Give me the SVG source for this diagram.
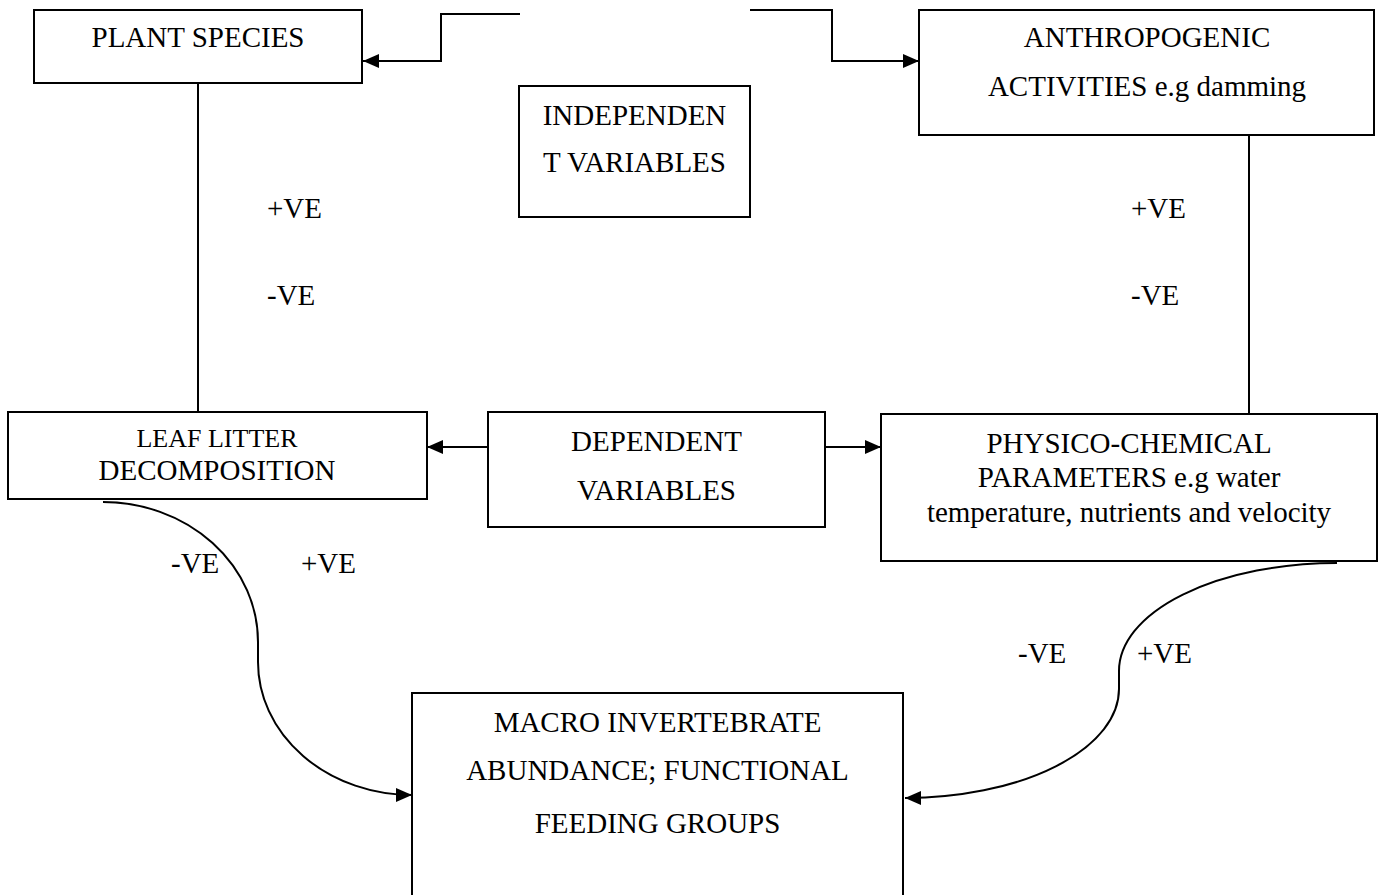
<svg xmlns="http://www.w3.org/2000/svg" width="1386" height="895" viewBox="0 0 1386 895">
<style>
.box{fill:#fff;stroke:#000;stroke-width:2}
.t{font-family:"Liberation Serif","Times New Roman",serif;font-size:29px;fill:#000}
.c{text-anchor:middle}
.ln{fill:none;stroke:#000;stroke-width:2}
</style>
<defs>
<marker id="ah" markerUnits="userSpaceOnUse" markerWidth="16" markerHeight="14" refX="16" refY="7" orient="auto">
<path d="M0,0 L16,7 L0,14 z" fill="#000"/>
</marker>
</defs>
<rect width="1386" height="895" fill="#fff"/>
<g id="connectors">
<polyline class="ln" points="520,14 441,14 441,61 363,61" marker-end="url(#ah)"/>
<polyline class="ln" points="750,10 832,10 832,61 919,61" marker-end="url(#ah)"/>
<line class="ln" x1="198" y1="83" x2="198" y2="412"/>
<line class="ln" x1="1249" y1="135" x2="1249" y2="414"/>
<line class="ln" x1="488" y1="447" x2="427" y2="447" marker-end="url(#ah)"/>
<line class="ln" x1="825" y1="447" x2="881" y2="447" marker-end="url(#ah)"/>
<path class="ln" d="M103,502 A155,140 0 0 1 258,642 L258,662 A154,133 0 0 0 412,795" marker-end="url(#ah)"/>
<path class="ln" d="M1337,563 A218,108 0 0 0 1119,671 L1119,689 A214,109 0 0 1 905,798" marker-end="url(#ah)"/>
</g>
<g id="plant">
<rect class="box" x="34" y="10" width="328" height="73"/>
<text class="t c" x="198" y="47">PLANT SPECIES</text>
</g>
<g id="anthro">
<rect class="box" x="919" y="10" width="455" height="125"/>
<text class="t c" x="1147" y="47">ANTHROPOGENIC</text>
<text class="t c" x="1147" y="96">ACTIVITIES e.g damming</text>
</g>
<g id="independent">
<rect class="box" x="519" y="86" width="231" height="131"/>
<text class="t c" x="634.5" y="125">INDEPENDEN</text>
<text class="t c" x="634.5" y="172">T VARIABLES</text>
</g>
<g id="leaf">
<rect class="box" x="8" y="412" width="419" height="87"/>
<text class="t c" x="217" y="447" style="font-size:26px">LEAF LITTER</text>
<text class="t c" x="217" y="480">DECOMPOSITION</text>
</g>
<g id="dependent">
<rect class="box" x="488" y="412" width="337" height="115"/>
<text class="t c" x="656.5" y="451">DEPENDENT</text>
<text class="t c" x="656.5" y="500">VARIABLES</text>
</g>
<g id="physico">
<rect class="box" x="881" y="414" width="496" height="147"/>
<text class="t c" x="1129" y="453">PHYSICO-CHEMICAL</text>
<text class="t c" x="1129" y="487">PARAMETERS e.g water</text>
<text class="t c" x="1129" y="522">temperature, nutrients and velocity</text>
</g>
<g id="macro">
<rect class="box" x="412" y="693" width="491" height="260"/>
<text class="t c" x="657.5" y="732">MACRO INVERTEBRATE</text>
<text class="t c" x="657.5" y="780">ABUNDANCE; FUNCTIONAL</text>
<text class="t c" x="657.5" y="833">FEEDING GROUPS</text>
</g>
<g id="labels">
<text class="t" x="267" y="218">+VE</text>
<text class="t" x="267" y="305">-VE</text>
<text class="t" x="1131" y="218">+VE</text>
<text class="t" x="1131" y="305">-VE</text>
<text class="t" x="171" y="573">-VE</text>
<text class="t" x="301" y="573">+VE</text>
<text class="t" x="1018" y="663">-VE</text>
<text class="t" x="1137" y="663">+VE</text>
</g>
</svg>
